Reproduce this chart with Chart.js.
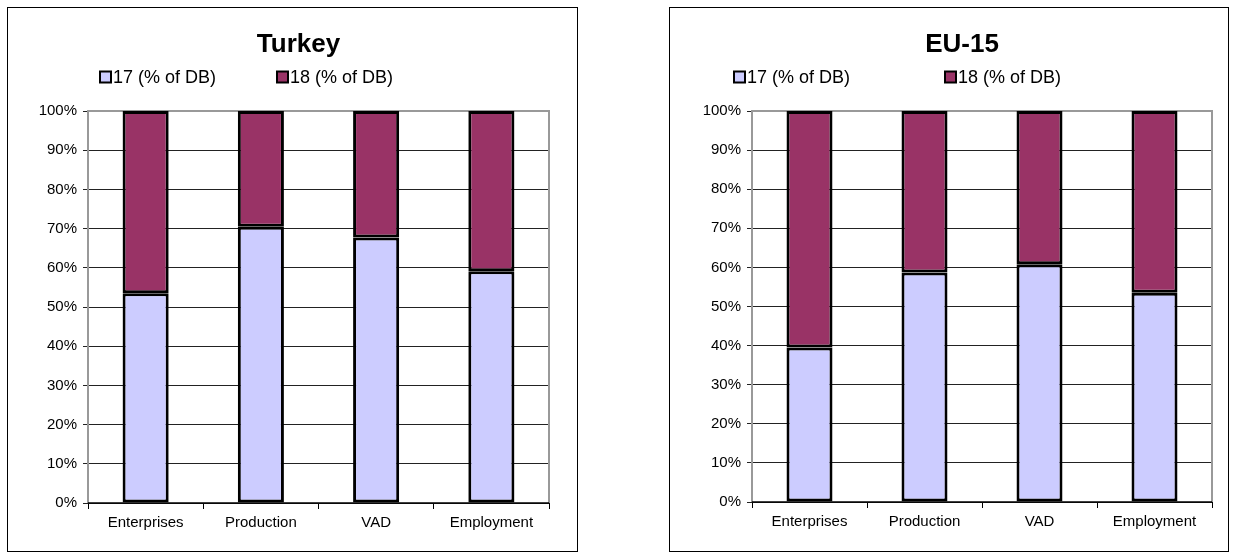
<!DOCTYPE html>
<html>
<head>
<meta charset="utf-8">
<script src="https://cdn.jsdelivr.net/npm/chart.js@4.4.1/dist/chart.umd.min.js"></script>
<style>
  html, body { margin: 0; padding: 0; background: #fff; }
  body { width: 1236px; height: 556px; position: relative; overflow: hidden; }
  .box { position: absolute; border: 1px solid #000; box-sizing: border-box; background: #fff; }
  .box canvas { position: absolute; left: 0; top: 0; }
</style>
</head>
<body>
<div class="box" id="boxL" style="left:7px; top:7px; width:571px; height:545px;"><canvas id="cL"></canvas></div>
<div class="box" id="boxR" style="left:669px; top:7px; width:560px; height:545px;"><canvas id="cR"></canvas></div>
<script>
// ---- data ----
const categories = ['Enterprises', 'Production', 'VAD', 'Employment'];
const seriesLabels = ['17 (% of DB)', '18 (% of DB)'];
const turkey17 = [53.5, 70.5, 67.7, 59.1];
const turkey18 = [46.5, 29.5, 32.3, 40.9];
const eu17 = [39.5, 58.7, 60.8, 53.5];
const eu18 = [60.5, 41.3, 39.2, 46.5];
const yTicks = [0, 10, 20, 30, 40, 50, 60, 70, 80, 90, 100];

const FONT = 'Arial, "Liberation Sans", sans-serif';
const colors = ['#CCCCFF', '#993366'];

const legendPlugin = {
  id: 'customLegend',
  afterLayout(chart, args, opts) {
    const t = chart.titleBlock;
    if (t && opts.titleShift) { t.left += opts.titleShift; t.right += opts.titleShift; }
  },
  afterDraw(chart, args, opts) {
    const ctx = chart.ctx;
    ctx.save();
    ctx.font = opts.fontSize + 'px ' + FONT;
    ctx.textBaseline = 'middle';
    ctx.textAlign = 'left';
    const box = opts.box;
    const y = opts.y;
    chart.data.datasets.forEach((ds, i) => {
      const x = opts.xs[i];
      ctx.fillStyle = ds.backgroundColor;
      ctx.fillRect(x, y - box / 2, box, box);
      ctx.lineWidth = 2;
      ctx.strokeStyle = '#000';
      ctx.strokeRect(x, y - box / 2, box, box);
      ctx.fillStyle = '#000';
      ctx.fillText(ds.label, x + box + 2, y + 1);
    });
    ctx.restore();
  }
};

const framePlugin = {
  id: 'frame',
  beforeDatasetsDraw(chart) {
    const a = chart.chartArea, ctx = chart.ctx;
    ctx.save();
    ctx.strokeStyle = '#999';
    ctx.lineWidth = 2;
    ctx.beginPath();
    ctx.moveTo(a.left, a.bottom);
    ctx.lineTo(a.left, a.top);
    ctx.lineTo(a.right, a.top);
    ctx.lineTo(a.right, a.bottom);
    ctx.stroke();
    ctx.restore();
  },
  afterDatasetsDraw(chart) {
    const a = chart.chartArea, ctx = chart.ctx;
    ctx.save();
    ctx.strokeStyle = '#000';
    ctx.lineWidth = 1.5;
    ctx.beginPath();
    ctx.moveTo(a.left, a.bottom);
    ctx.lineTo(a.right, a.bottom);
    ctx.stroke();
    ctx.restore();
  }
};

function makeChart(id, title, d17, d18, cfg) {
  const canvas = document.getElementById(id);
  canvas.width = cfg.w; canvas.height = cfg.h;
  canvas.style.width = cfg.w + 'px'; canvas.style.height = cfg.h + 'px';
  return new Chart(canvas, {
    type: 'bar',
    data: {
      labels: categories,
      datasets: [
        { label: seriesLabels[0], data: d17, backgroundColor: colors[0], borderColor: '#000', borderWidth: 3, borderSkipped: false },
        { label: seriesLabels[1], data: d18, backgroundColor: colors[1], borderColor: '#000', borderWidth: 3, borderSkipped: false }
      ]
    },
    options: {
      responsive: false,
      animation: false,
      devicePixelRatio: 1,
      layout: { padding: { left: cfg.padL, right: cfg.padR, top: 0, bottom: 0 } },
      datasets: { bar: { categoryPercentage: 0.8, barPercentage: 0.5 } },
      plugins: {
        legend: { display: false },
        tooltip: { enabled: false },
        title: {
          display: true, text: title, color: '#000',
          font: { family: FONT, size: 26, weight: 'bold', lineHeight: 1.2 },
          padding: { top: 21.4, bottom: 50.4 }
        },
        customLegend: cfg.legend
      },
      scales: {
        x: {
          stacked: true,
          offset: true,
          grid: { display: true, drawOnChartArea: false, drawTicks: true, offset: true, tickLength: 6, color: '#000', lineWidth: 1 },
          border: { display: false },
          ticks: { color: '#000', font: { family: FONT, size: 15 }, padding: 5, maxRotation: 0 },
          afterFit(s) { s.height = cfg.xH; }
        },
        y: {
          stacked: true,
          min: 0, max: 100,
          afterBuildTicks(s) { s.ticks = yTicks.map(v => ({ value: v })); },
          grid: { color: '#222', lineWidth: 1, tickLength: 5, drawTicks: true },
          border: { display: false },
          ticks: { color: '#000', font: { family: FONT, size: 15 }, padding: 6, callback: v => v + '%' },
          afterFit(s) { s.width = cfg.yW; }
        }
      }
    },
    plugins: [legendPlugin, framePlugin]
  });
}

makeChart('cL', 'Turkey', turkey17, turkey18, {
  w: 569, h: 543, padL: 10, padR: 28, yW: 70, xH: 48,
  legend: { fontSize: 18, box: 11, y: 69, xs: [92, 269], titleShift: 15 }
});
makeChart('cR', 'EU-15', eu17, eu18, {
  w: 558, h: 543, padL: 10, padR: 16, yW: 72, xH: 49,
  legend: { fontSize: 18, box: 11, y: 69, xs: [64, 275], titleShift: 16 }
});
</script>
</body>
</html>
